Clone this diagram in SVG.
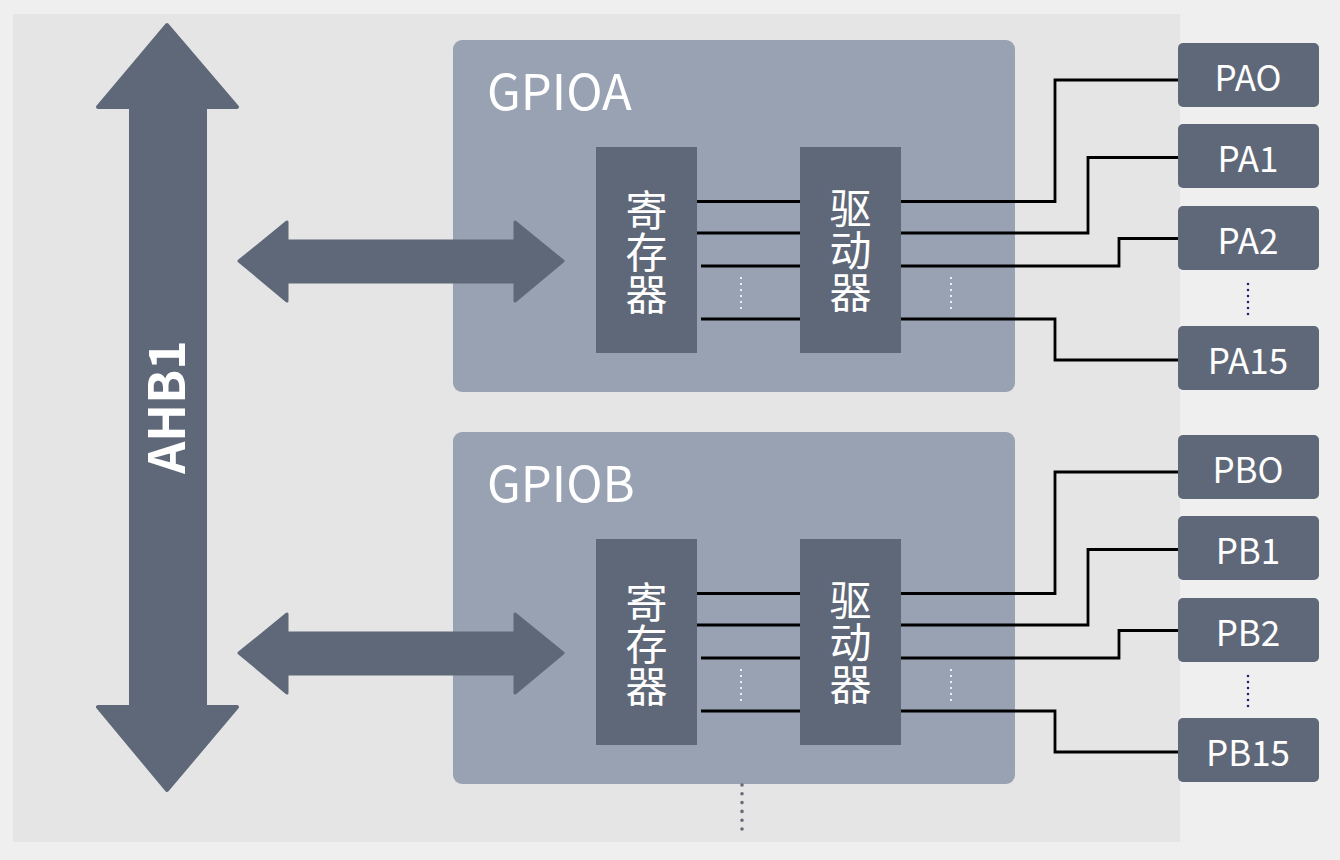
<svg xmlns="http://www.w3.org/2000/svg" width="1340" height="860" viewBox="0 0 1340 860">
<style>
.gpio{fill:#98a2b3}
.dark{fill:#5f6878}
.t{font-family:"Noto Sans CJK SC","Noto Sans",sans-serif;fill:#ffffff}
.ttl{font-size:49px}
.cn{font-size:42px;text-anchor:middle;writing-mode:vertical-rl}
.pin{font-size:35px;text-anchor:middle}
.w{fill:none;stroke:#000;stroke-width:2.8}
.wd{fill:none;stroke:#fff;stroke-width:2.2;stroke-linecap:round;stroke-dasharray:0 6}
.bd{fill:none;stroke:#1b2470;stroke-width:2.6;stroke-linecap:round;stroke-dasharray:0 6}
.gd{fill:none;stroke:#666b7b;stroke-width:3.6;stroke-linecap:round;stroke-dasharray:0 8.8}
</style>
<rect width="1340" height="860" fill="#efefef"/>
<rect x="13" y="14" width="1167" height="828" fill="#e5e5e5"/>

<g id="ahb1">
<path class="dark" stroke="#5f6878" stroke-width="4" stroke-linejoin="round" d="M167,25 L237,107 L205,107 L205,707 L237,707 L167,790 L98,707 L131,707 L131,107 L98,107 Z"/>
<text class="t" font-size="50" font-weight="bold" text-anchor="middle" transform="translate(185,407) rotate(-90)">AHB1</text>
</g>

<g id="gpioa">
<rect class="gpio" x="453" y="40" width="562" height="352" rx="9"/>
<text class="t ttl" x="487" y="110">GPIOA</text>
</g>
<g id="gpioa-reg">
<rect class="dark" x="596" y="147" width="101" height="206"/>
<text class="t cn" x="646.5" y="252">寄存器</text>
</g>
<g id="gpioa-drv">
<rect class="dark" x="800" y="147" width="101" height="206"/>
<text class="t cn" x="850.5" y="250">驱动器</text>
</g>

<g id="gpiob">
<rect class="gpio" x="453" y="432" width="562" height="352" rx="9"/>
<text class="t ttl" x="487" y="502">GPIOB</text>
</g>
<g id="gpiob-reg">
<rect class="dark" x="596" y="539" width="101" height="206"/>
<text class="t cn" x="646.5" y="644">寄存器</text>
</g>
<g id="gpiob-drv">
<rect class="dark" x="800" y="539" width="101" height="206"/>
<text class="t cn" x="850.5" y="642">驱动器</text>
</g>

<g id="pins">
<g id="pa0"><rect class="dark" x="1178" y="43" width="141" height="64" rx="5"/><text class="t pin" x="1248" y="91">PAO</text></g>
<g id="pa1"><rect class="dark" x="1178" y="124" width="141" height="64" rx="5"/><text class="t pin" x="1248" y="172">PA1</text></g>
<g id="pa2"><rect class="dark" x="1178" y="206" width="141" height="64" rx="5"/><text class="t pin" x="1248" y="254">PA2</text></g>
<g id="pa15"><rect class="dark" x="1178" y="326" width="141" height="64" rx="5"/><text class="t pin" x="1248" y="374">PA15</text></g>
<g id="pb0"><rect class="dark" x="1178" y="435" width="141" height="64" rx="5"/><text class="t pin" x="1248" y="483">PBO</text></g>
<g id="pb1"><rect class="dark" x="1178" y="516" width="141" height="64" rx="5"/><text class="t pin" x="1248" y="564">PB1</text></g>
<g id="pb2"><rect class="dark" x="1178" y="598" width="141" height="64" rx="5"/><text class="t pin" x="1248" y="646">PB2</text></g>
<g id="pb15"><rect class="dark" x="1178" y="718" width="141" height="64" rx="5"/><text class="t pin" x="1248" y="766">PB15</text></g>
</g>

<g id="connectors">
<g id="bus-a">
<path class="dark" stroke="#5f6878" stroke-width="3" stroke-linejoin="round" d="M239,261 L287,222 L287,241 L515,241 L515,222 L563,261 L515,301 L515,282 L287,282 L287,301 Z"/>
</g>
<g id="bus-b">
<path class="dark" stroke="#5f6878" stroke-width="3" stroke-linejoin="round" d="M239,653 L287,614 L287,633 L515,633 L515,614 L563,653 L515,693 L515,674 L287,674 L287,693 Z"/>
</g>
<g id="wires-a">
<path class="w" d="M697,201.5 H800 M697,233 H800 M701,266 H800 M701,319 H800"/>
<path class="w" d="M901,201.5 H1055 V80 H1178"/>
<path class="w" d="M901,233 H1088 V157.5 H1178"/>
<path class="w" d="M901,266 H1119 V238.5 H1178"/>
<path class="w" d="M901,319 H1055 V360 H1178"/>
<line class="wd" x1="741" y1="278" x2="741" y2="309"/>
<line class="wd" x1="951" y1="278" x2="951" y2="309"/>
<line class="bd" x1="1248" y1="284" x2="1248" y2="315"/>
</g>
<g id="wires-b">
<path class="w" d="M697,593.5 H800 M697,625 H800 M701,658 H800 M701,711 H800"/>
<path class="w" d="M901,593.5 H1055 V472 H1178"/>
<path class="w" d="M901,625 H1088 V549.5 H1178"/>
<path class="w" d="M901,658 H1119 V630.5 H1178"/>
<path class="w" d="M901,711 H1055 V752 H1178"/>
<line class="wd" x1="741" y1="670" x2="741" y2="701"/>
<line class="wd" x1="951" y1="670" x2="951" y2="701"/>
<line class="bd" x1="1248" y1="676" x2="1248" y2="707"/>
</g>
<line class="gd" x1="742" y1="785" x2="742" y2="830"/>
</g>
</svg>
